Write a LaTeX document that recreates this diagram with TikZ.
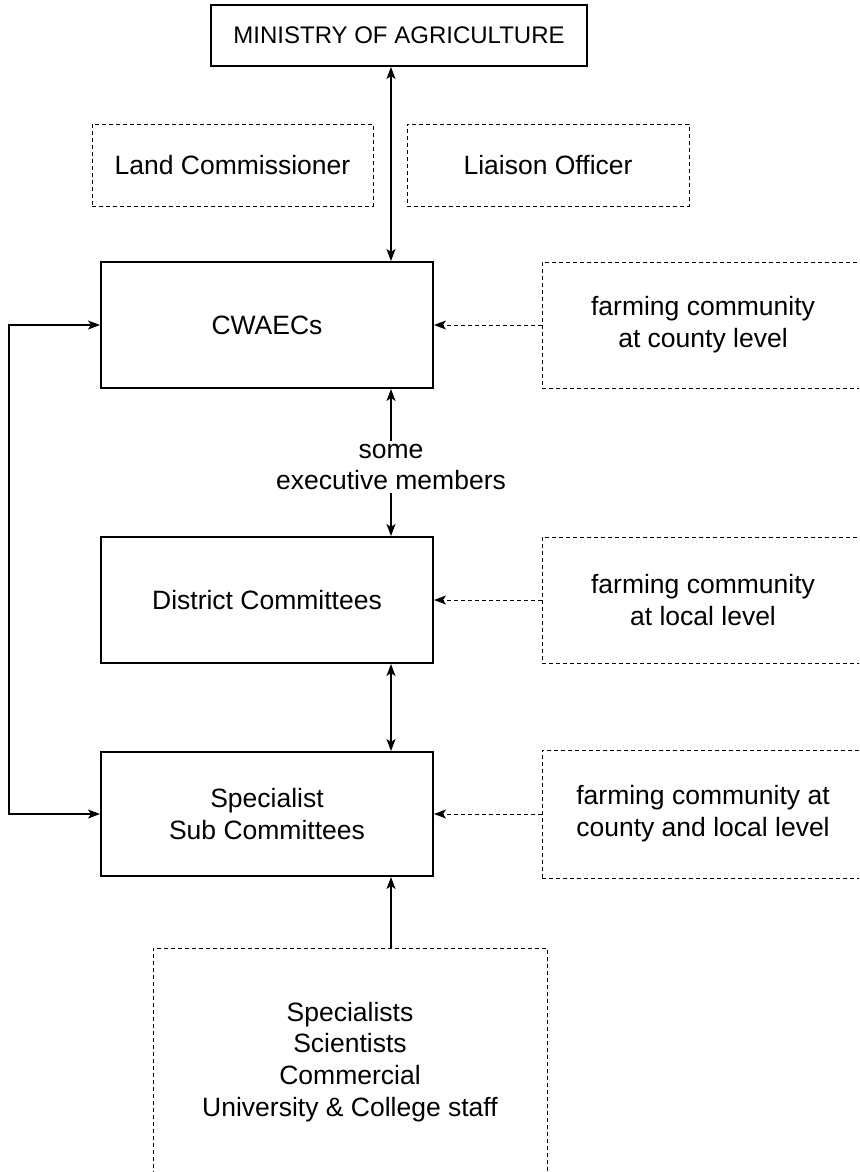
\documentclass[tikz,border=0pt]{standalone}
\usepackage{fontspec}
\setmainfont{Liberation Sans}
\usetikzlibrary{arrows.meta, positioning}

\tikzset{
  unit/.style={draw, line width=2pt, align=center, inner sep=0pt},
  outside/.style={draw, line width=1pt, dash pattern=on 4pt off 3pt, align=center, inner sep=0pt},
  tip/.tip={Stealth[length=12pt, width=9pt, inset=3pt]},
  link/.style={line width=1.4pt, -tip},
  twoway/.style={line width=1.4pt, tip-tip},
  feed/.style={line width=1pt, dash pattern=on 4pt off 3pt, -tip},
}

\begin{document}
\begin{tikzpicture}[x=1pt, y=-1pt, font=\fontsize{26.5}{31.8}\selectfont]
\clip (0,0) rectangle (859,1172);
\useasboundingbox (0,0) rectangle (859,1172);

\node[unit, minimum width=376pt, minimum height=61pt, font=\fontsize{24}{29}\selectfont] (ministry) at (399,35.5) {MINISTRY OF AGRICULTURE};
\node[outside, minimum width=281pt, minimum height=82pt] (land) at (232.5,165) {Land Commissioner};
\node[outside, minimum width=282pt, minimum height=82pt] (liaison) at (548,165) {Liaison Officer};

\node[unit, minimum width=332pt, minimum height=126pt] (cwaec) at (267,325) {CWAECs};
\node[outside, minimum width=322pt, minimum height=126pt] (fcounty) at (703,325) {farming community\\at county level};

\node[unit, minimum width=332pt, minimum height=126pt] (district) at (267,600) {District Committees};
\node[outside, minimum width=322pt, minimum height=126pt] (flocal) at (703,600) {farming community\\at local level};

\node[unit, minimum width=332pt, minimum height=124pt] (special) at (267,814) {Specialist\\Sub Committees};
\node[outside, minimum width=322pt, minimum height=128pt] (fboth) at (703,814) {farming community at\\county and local level};

\node[outside, minimum width=394pt, minimum height=228pt] (staff) at (350,1062)
     {Specialists\\Scientists\\Commercial\\University \& College staff};

% main spine of the chart
\coordinate (spine) at (391,0);
\node[inner sep=3pt, align=center] (exec) at (391,467) {some\\executive members};

\draw[twoway] (spine |- ministry.south) -- (spine |- cwaec.north);
\draw[link] (exec.north) -- (exec |- cwaec.south);
\draw[link] (exec.south) -- (exec |- district.north);
\draw[twoway] (spine |- district.south) -- (spine |- special.north);
\draw[link] (staff.north -| spine) -- (special.south -| spine);
\draw[twoway] (cwaec.west) -- ++(-91,0) |- (special.west);

\draw[feed] (fcounty.west) -- (cwaec.east);
\draw[feed] (flocal.west) -- (district.east);
\draw[feed] (fboth.west) -- (special.east);
\end{tikzpicture}
\end{document}
